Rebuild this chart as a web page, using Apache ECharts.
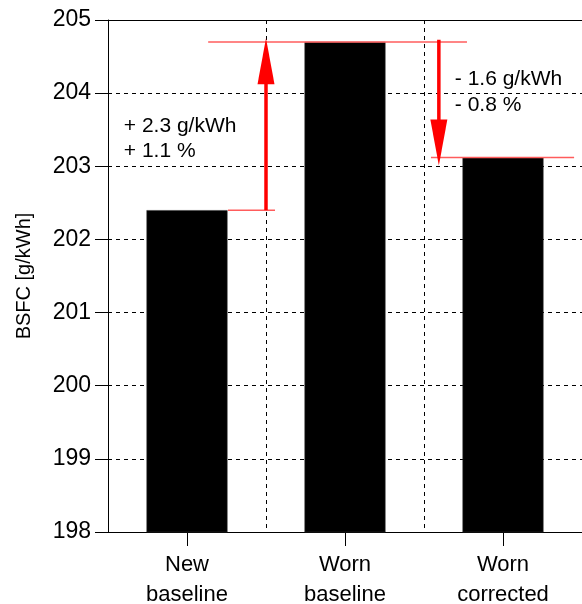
<!DOCTYPE html>
<html>
<head>
<meta charset="utf-8">
<script src="https://cdn.jsdelivr.net/npm/echarts@6/dist/echarts.min.js"></script>
<style>html,body{margin:0;padding:0;background:#fff}#c{width:582px;height:604px}</style>
</head>
<body>
<div id="c"></div>
<script>
// ---- data ----
var categories = ['New\nbaseline', 'Worn\nbaseline', 'Worn\ncorrected'];
var bsfc = [202.4, 204.7, 203.12];
var yTicks = [198, 199, 200, 201, 202, 203, 204, 205];

// annotation arrows (x in category-slot units 0..3, y in g/kWh)
var arrowX = [1.0, 2.094];
var arrowFrom = [202.4, 204.73];
var arrowTo = [204.75, 203.01];

// thin red reference lines
var refLineStart = [0.759, 0.634, 2.044];
var refLineEnd = [1.057, 2.272, 2.95];
var refLineValue = [202.4, 204.7, 203.12];

// annotation texts
var annoTexts = ['+ 2.3 g/kWh', '+ 1.1 %', '- 1.6 g/kWh', '- 0.8 %'];
var annoX = [0.1, 0.1, 2.195, 2.195];
var annoY = [203.55, 203.2, 204.19, 203.84];

var FONT = 'Liberation Sans, Arial, sans-serif';

var chart = echarts.init(document.getElementById('c'), null, {renderer: 'canvas'});

var arrowData = arrowX.map(function (x, i) { return [x, arrowFrom[i], arrowTo[i]]; });
var refData = refLineStart.map(function (x, i) { return [x, refLineEnd[i], refLineValue[i]]; });
var textData = annoX.map(function (x, i) { return [x, annoY[i]]; });

chart.setOption({
  animation: false,
  backgroundColor: '#fff',
  grid: {left: 108, right: 0, top: 20, bottom: 72, containLabel: false, outerBoundsMode: 'none'},
  xAxis: [{
    type: 'category',
    data: categories,
    boundaryGap: true,
    axisLine: {show: true, lineStyle: {color: '#000', width: 1}},
    axisTick: {show: true, alignWithLabel: true, length: 14, lineStyle: {color: '#000', width: 1}},
    axisLabel: {color: '#000', fontFamily: FONT, fontSize: 22, lineHeight: 30, margin: 18, interval: 0},
    splitLine: {show: true, lineStyle: {color: '#000', width: 1, type: [4, 4]}}
  }, {
    type: 'value',
    position: 'top',
    min: 0, max: 3,
    axisLine: {show: true, onZero: false, lineStyle: {color: '#000', width: 1}},
    axisTick: {show: false},
    axisLabel: {show: false},
    splitLine: {show: false}
  }],
  yAxis: {
    type: 'value',
    min: yTicks[0], max: yTicks[yTicks.length - 1], interval: 1,
    name: 'BSFC [g/kWh]',
    nameLocation: 'middle',
    nameGap: 74,
    nameTextStyle: {color: '#000', fontFamily: FONT, fontSize: 20},
    axisLine: {show: true, lineStyle: {color: '#000', width: 1}},
    axisTick: {show: true, length: 13, lineStyle: {color: '#000', width: 1}},
    axisLabel: {color: '#000', fontFamily: FONT, fontSize: 23, margin: 17},
    splitLine: {show: true, lineStyle: {color: '#000', width: 1, type: [4, 4]}}
  },
  series: [{
    type: 'bar',
    data: bsfc,
    barWidth: 81,
    itemStyle: {color: '#000', borderColor: '#333', borderWidth: 0.5},
    z: 2
  }, {
    type: 'custom',
    xAxisIndex: 1, yAxisIndex: 0,
    clip: false,
    z: 5,
    data: refData,
    renderItem: function (params, api) {
      var p0 = api.coord([api.value(0), api.value(2)]);
      var p1 = api.coord([api.value(1), api.value(2)]);
      return {type: 'line', shape: {x1: p0[0], y1: p0[1], x2: p1[0], y2: p1[1]},
        style: {stroke: '#ff5c5c', lineWidth: 1.5}};
    }
  }, {
    type: 'custom',
    xAxisIndex: 1, yAxisIndex: 0,
    clip: false,
    z: 6,
    data: arrowData,
    renderItem: function (params, api) {
      var x = api.value(0);
      var p0 = api.coord([x, api.value(1)]);
      var p1 = api.coord([x, api.value(2)]);
      var dir = p1[1] < p0[1] ? -1 : 1;
      var headLen = 46, headHalf = 8.5;
      var baseY = p1[1] - dir * headLen;
      return {type: 'group', children: [
        {type: 'line', shape: {x1: p0[0], y1: p0[1], x2: p0[0], y2: baseY + dir * 2},
          style: {stroke: '#ff0000', lineWidth: 3.5}},
        {type: 'polygon', shape: {points: [[p1[0], p1[1]], [p1[0] - headHalf, baseY], [p1[0] + headHalf, baseY]]},
          style: {fill: '#ff0000'}}
      ]};
    }
  }, {
    type: 'custom',
    xAxisIndex: 1, yAxisIndex: 0,
    clip: false,
    z: 7,
    data: textData,
    renderItem: function (params, api) {
      var p = api.coord([api.value(0), api.value(1)]);
      return {type: 'text', x: p[0], y: p[1],
        style: {text: annoTexts[params.dataIndex], fill: '#000', font: '21px ' + FONT,
          align: 'left', verticalAlign: 'middle'}};
    }
  }]
});
</script>
</body>
</html>
